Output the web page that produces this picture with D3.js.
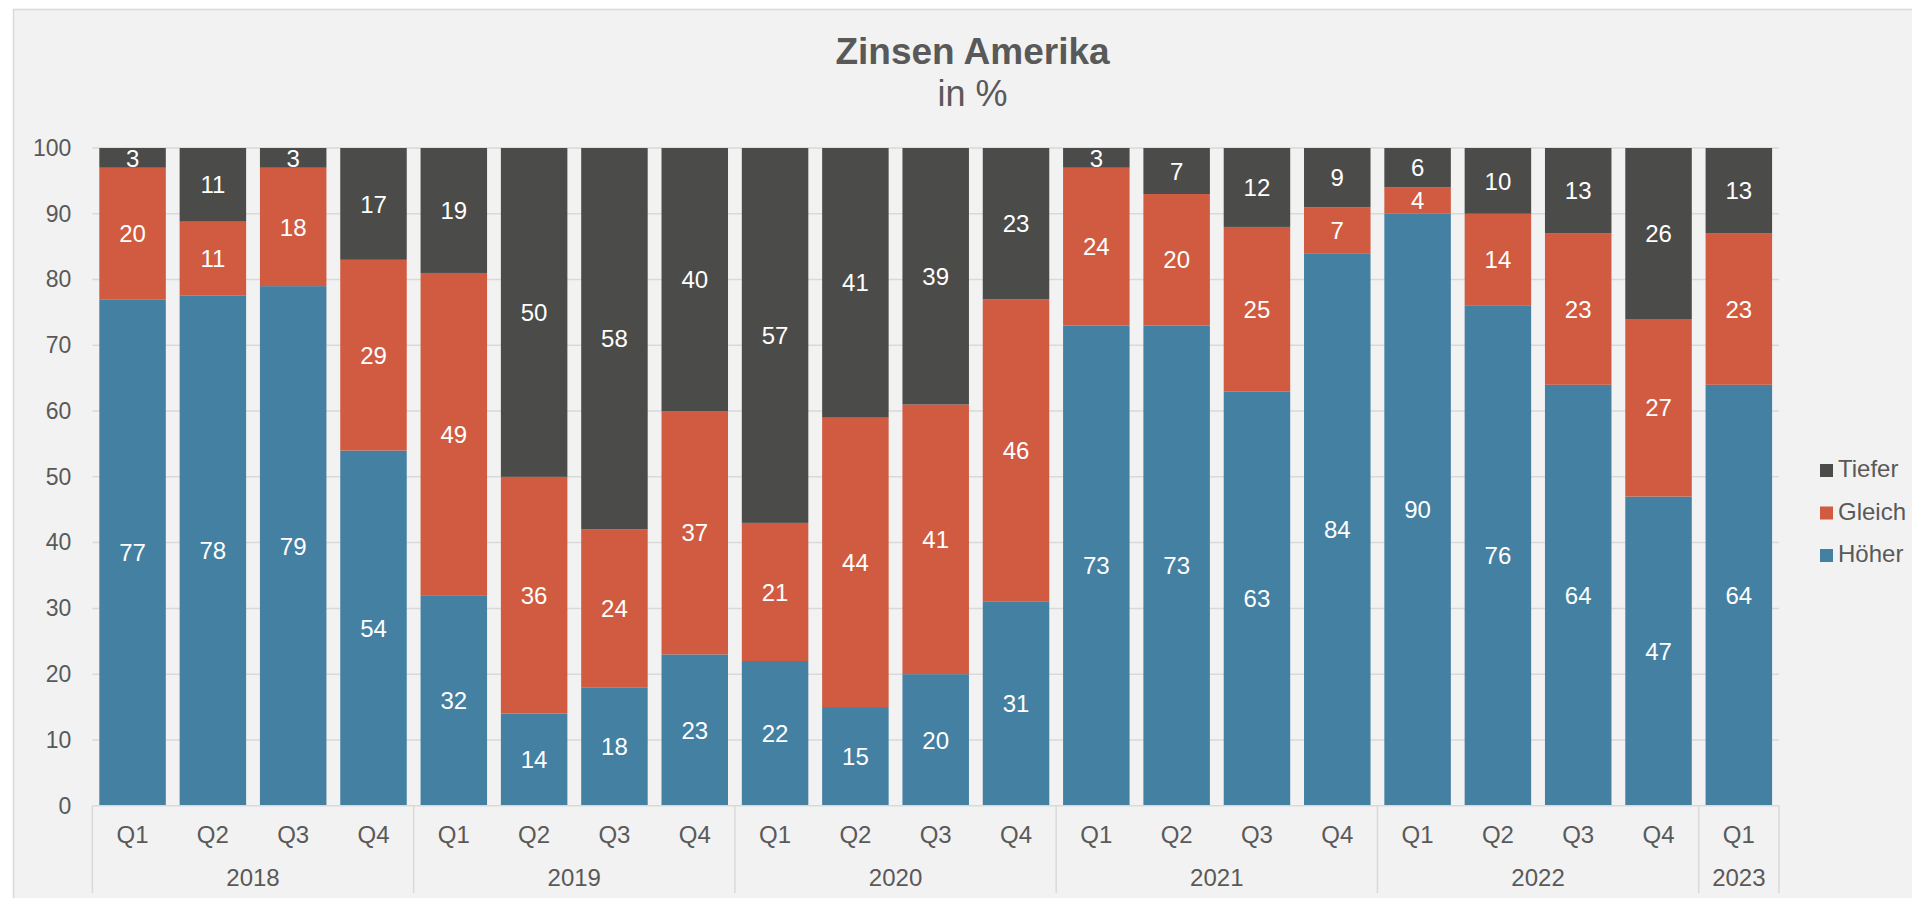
<!DOCTYPE html>
<html>
<head>
<meta charset="utf-8">
<script src="https://cdn.jsdelivr.net/npm/d3@7"></script>
<style>
  html, body { margin: 0; padding: 0; background: #ffffff; }
  text { font-family: "Liberation Sans", Arial, sans-serif; }
</style>
</head>
<body>
<div id="chart"></div>
<script>
var svgWidth = 1912;
var svgHeight = 898;

// categories
var years = ["2018", "2019", "2020", "2021", "2022", "2023"];
var quarters = ["Q1", "Q2", "Q3", "Q4",
                "Q1", "Q2", "Q3", "Q4",
                "Q1", "Q2", "Q3", "Q4",
                "Q1", "Q2", "Q3", "Q4",
                "Q1", "Q2", "Q3", "Q4",
                "Q1"];
var quarterYear = ["2018", "2018", "2018", "2018",
                   "2019", "2019", "2019", "2019",
                   "2020", "2020", "2020", "2020",
                   "2021", "2021", "2021", "2021",
                   "2022", "2022", "2022", "2022",
                   "2023"];

// series (in %)
var hoeher = [77, 77.6, 79, 54, 32, 14, 18, 23, 22, 15, 20, 31, 73, 73, 63, 84, 90, 76, 64, 47, 64];
var gleich = [20, 11.2, 18, 29, 49, 36, 24, 37, 21, 44, 41, 46, 24, 20, 25, 7, 4, 14, 23, 27, 23];
var tiefer = [3, 11.2, 3, 17, 19, 50, 58, 40, 57, 41, 39, 23, 3, 7, 12, 9, 6, 10, 13, 26, 13];

var yTicks = [0, 10, 20, 30, 40, 50, 60, 70, 80, 90, 100];

var seriesNames = {hoeher: "Höher", gleich: "Gleich", tiefer: "Tiefer"};
var colors = {hoeher: "#4480a2", gleich: "#d05b40", tiefer: "#4b4b49"};
var textColor = "#595959";
var gridColor = "#d9d9d9";

var plot = {left: 92.4, right: 1779, top: 148, bottom: 805.7};

var table = quarters.map(function (q, i) {
    return {key: quarterYear[i] + "-" + q, q: q, year: quarterYear[i],
            hoeher: hoeher[i], gleich: gleich[i], tiefer: tiefer[i]};
});

var svg = d3.select("#chart").append("svg")
    .attr("width", svgWidth)
    .attr("height", svgHeight);

// chart area
svg.append("rect")
    .attr("x", 13.5).attr("y", 9.5)
    .attr("width", 1940).attr("height", 920)
    .attr("fill", "#f2f2f2")
    .attr("stroke", "#d9d9d9")
    .attr("stroke-width", 1.5);

var x = d3.scaleBand()
    .domain(table.map(d => d.key))
    .range([plot.left, plot.right])
    .paddingInner(0.172)
    .paddingOuter(0.086);

var y = d3.scaleLinear()
    .domain([0, 100])
    .range([plot.bottom, plot.top]);

// gridlines
svg.append("g")
    .attr("class", "grid")
    .selectAll("line")
    .data(yTicks.filter(d => d > 0))
    .enter().append("line")
    .attr("x1", plot.left).attr("x2", plot.right)
    .attr("y1", d => y(d)).attr("y2", d => y(d))
    .attr("stroke", gridColor)
    .attr("stroke-width", 1.5);

// y axis labels
var yAxis = svg.append("g")
    .attr("class", "axis")
    .attr("transform", "translate(" + plot.left + ",0)")
    .call(d3.axisLeft(y).tickValues(yTicks).tickSize(0).tickPadding(21));
yAxis.select(".domain").remove();
yAxis.selectAll("text")
    .attr("fill", textColor)
    .style("font-size", "23px")
    .style("font-family", "'Liberation Sans', Arial, sans-serif");

// stacked bars
var keys = ["hoeher", "gleich", "tiefer"];
var stacked = d3.stack().keys(keys)(table);

var layer = svg.selectAll(".layer")
    .data(stacked)
    .enter().append("g")
    .attr("class", "layer")
    .attr("fill", d => colors[d.key]);

layer.selectAll("rect")
    .data(d => d)
    .enter().append("rect")
    .attr("x", d => x(d.data.key))
    .attr("y", d => y(d[1]))
    .attr("width", x.bandwidth())
    .attr("height", d => y(d[0]) - y(d[1]));

// data labels
layer.selectAll(".lbl")
    .data(d => d)
    .enter().append("text")
    .attr("class", "lbl")
    .attr("x", d => x(d.data.key) + x.bandwidth() / 2)
    .attr("y", d => y((d[0] + d[1]) / 2))
    .attr("dy", "0.36em")
    .attr("text-anchor", "middle")
    .attr("fill", "#ffffff")
    .style("font-size", "24px")
    .text(d => Math.round(d[1] - d[0]));

// category axis
svg.append("line")
    .attr("x1", plot.left).attr("x2", plot.right)
    .attr("y1", plot.bottom).attr("y2", plot.bottom)
    .attr("stroke", gridColor)
    .attr("stroke-width", 1.5);

svg.append("g").selectAll("text")
    .data(table)
    .enter().append("text")
    .attr("x", d => x(d.key) + x.bandwidth() / 2)
    .attr("y", 843)
    .attr("text-anchor", "middle")
    .attr("fill", textColor)
    .style("font-size", "24px")
    .text(d => d.q);

var step = x.step();
var groups = years.map(function (yr) {
    var idx = table.map((d, i) => d.year === yr ? i : -1).filter(i => i >= 0);
    return {year: yr, x0: plot.left + idx[0] * step, x1: plot.left + (idx[idx.length - 1] + 1) * step};
});

svg.append("g").selectAll("text")
    .data(groups)
    .enter().append("text")
    .attr("x", d => (d.x0 + d.x1) / 2)
    .attr("y", 886)
    .attr("text-anchor", "middle")
    .attr("fill", textColor)
    .style("font-size", "24px")
    .text(d => d.year);

var seps = [groups[0].x0].concat(groups.map(d => d.x1));
svg.append("g").selectAll("line")
    .data(seps)
    .enter().append("line")
    .attr("x1", d => d).attr("x2", d => d)
    .attr("y1", plot.bottom).attr("y2", 893)
    .attr("stroke", gridColor)
    .attr("stroke-width", 1.5);

// title
svg.append("text")
    .attr("x", 972.5).attr("y", 64)
    .attr("text-anchor", "middle")
    .attr("fill", textColor)
    .style("font-size", "37px")
    .style("font-weight", "bold")
    .text("Zinsen Amerika");
svg.append("text")
    .attr("x", 972.5).attr("y", 106)
    .attr("text-anchor", "middle")
    .attr("fill", textColor)
    .style("font-size", "36px")
    .text("in %");

// legend
var legendKeys = ["tiefer", "gleich", "hoeher"];
var lg = svg.selectAll(".legend")
    .data(legendKeys)
    .enter().append("g")
    .attr("class", "legend")
    .attr("transform", (d, i) => "translate(1820," + (464 + i * 42.5) + ")");
lg.append("rect")
    .attr("width", 13).attr("height", 13)
    .attr("fill", d => colors[d]);
lg.append("text")
    .attr("x", 18).attr("y", 13.3)
    .attr("fill", textColor)
    .style("font-size", "24px")
    .text(d => seriesNames[d]);
</script>
</body>
</html>
